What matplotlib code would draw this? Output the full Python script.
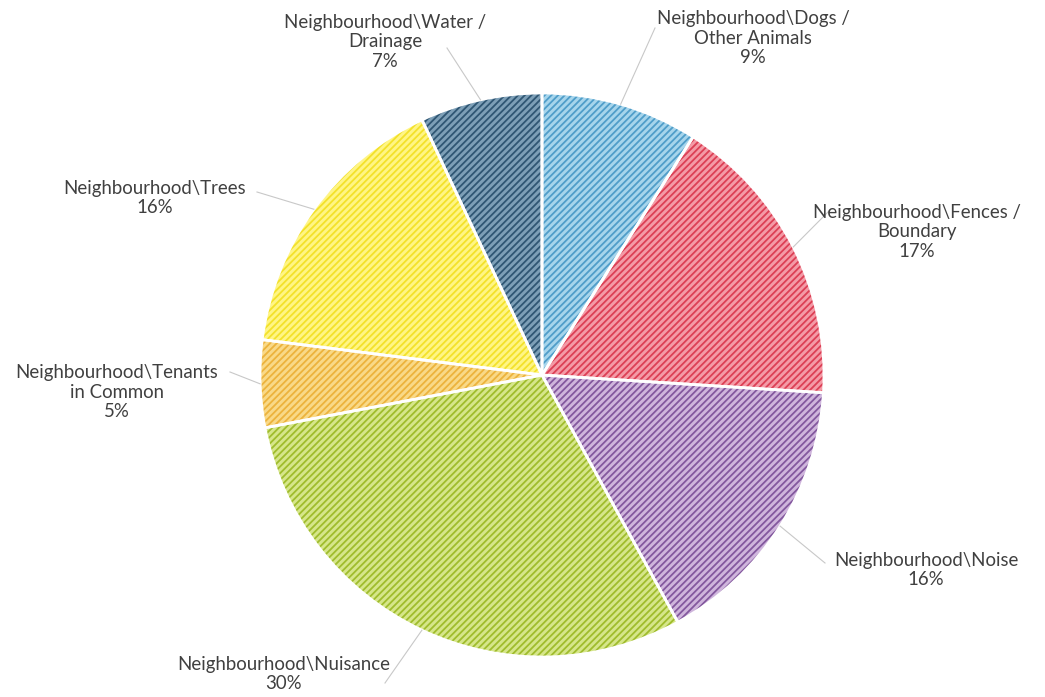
import numpy as np
import matplotlib
matplotlib.use("Agg")
import matplotlib.pyplot as plt

# slices, clockwise from 12 o'clock
labels = ["Neighbourhood\\Dogs /\nOther Animals",
          "Neighbourhood\\Fences /\nBoundary",
          "Neighbourhood\\Noise",
          "Neighbourhood\\Nuisance",
          "Neighbourhood\\Tenants\nin Common",
          "Neighbourhood\\Trees",
          "Neighbourhood\\Water /\nDrainage"]
shares = [9, 17, 16, 30, 5, 16, 7]

face_colors = ["#a6d5ec", "#f49aa6", "#cfb5dc", "#d6e68a", "#f9d987", "#fff584", "#7d9fb7"]
hatch_colors = ["#4f9dc9", "#dc3f55", "#83589e", "#9fbc2c", "#ecb33c", "#f3e12a", "#2f5673"]

# label text centres (pixels, y up) and where the leader line stops
text_pos = [(753, 659), (917, 465), (926, 127), (284, 23), (117, 305), (155, 499), (385, 655)]
leader_end = [(655, 669), (830, 487), (825, 134), (385, 14), (230, 325), (257, 505), (447, 649)]

plt.rcParams['font.family'] = ['Lato', 'DejaVu Sans']
plt.rcParams['hatch.linewidth'] = 1.3

fig = plt.figure(figsize=(10.45, 6.97), dpi=100)
ax = fig.add_axes([0, 0, 1, 1])

cx, cy, r = 542, 322, 282

wedges, _ = ax.pie(shares, center=(cx, cy), radius=r, startangle=90, counterclock=False,
                   colors=face_colors, wedgeprops=dict(linewidth=0), frame=True)
for w, hc in zip(wedges, hatch_colors):
    w.set_edgecolor(hc)
    w.set_hatch('/////')
    w.set_linewidth(0)

# white borders between slices
ax.pie(shares, center=(cx, cy), radius=r, startangle=90, counterclock=False,
       wedgeprops=dict(fill=False, edgecolor='white', linewidth=2), frame=True)
ax.set_xlim(0, 1045)
ax.set_ylim(0, 697)
ax.axis('off')

for w, lab, s, tp, le in zip(wedges, labels, shares, text_pos, leader_end):
    mid = np.deg2rad((w.theta1 + w.theta2) / 2)
    ex, ey = cx + r * np.cos(mid), cy + r * np.sin(mid)
    ax.plot([ex, le[0]], [ey, le[1]], color='#c8c8c8', lw=0.8, zorder=1)
    ax.text(tp[0], tp[1], f"{lab}\n{s}%", ha='center', va='center',
            fontsize=13.4, color='#404040', linespacing=1.15)

fig.savefig("out.png", dpi=100)
